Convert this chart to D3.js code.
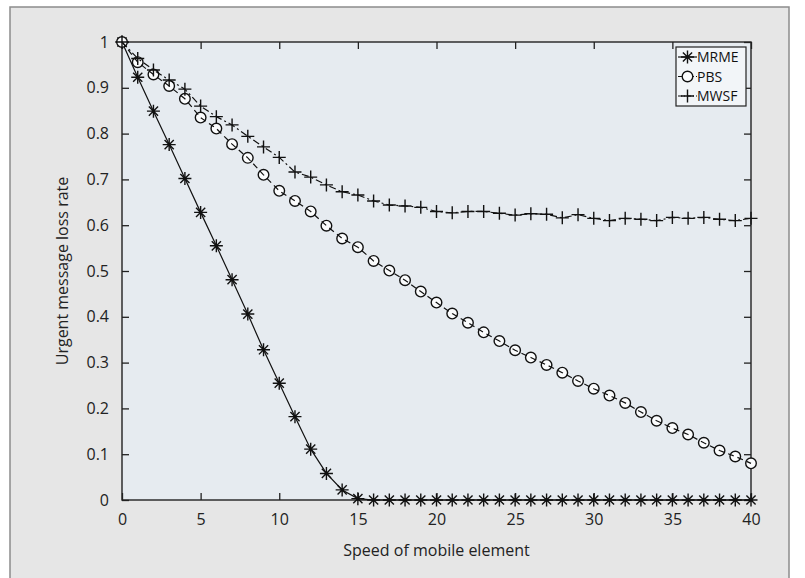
<!DOCTYPE html>
<html>
<head>
<meta charset="utf-8">
<script src="https://cdn.jsdelivr.net/npm/d3@7"></script>
<style>
  body { margin: 0; background: #fff; }
  svg { display: block; font-family: "Open Sans", sans-serif; }
</style>
</head>
<body>
<div id="chart"></div>
<script>
// speed of mobile element, 0..40
var speeds = d3.range(0, 41);

var mrme = [1, 0.923, 0.849, 0.776, 0.702, 0.628, 0.555, 0.481, 0.406, 0.328, 0.255,
            0.182, 0.111, 0.058, 0.022, 0.003, 0, 0, 0, 0, 0,
            0, 0, 0, 0, 0, 0, 0, 0, 0, 0,
            0, 0, 0, 0, 0, 0, 0, 0, 0, 0];

var pbs = [1, 0.956, 0.929, 0.904, 0.876, 0.835, 0.811, 0.777, 0.747, 0.71, 0.675,
           0.653, 0.63, 0.599, 0.571, 0.552, 0.522, 0.501, 0.48, 0.455, 0.431,
           0.407, 0.387, 0.366, 0.347, 0.327, 0.311, 0.295, 0.278, 0.26, 0.243,
           0.228, 0.212, 0.192, 0.173, 0.157, 0.143, 0.125, 0.108, 0.095, 0.08];

var mwsf = [1, 0.964, 0.939, 0.917, 0.897, 0.86, 0.837, 0.819, 0.794, 0.771, 0.748,
            0.716, 0.705, 0.688, 0.673, 0.666, 0.653, 0.644, 0.642, 0.639, 0.63,
            0.627, 0.63, 0.63, 0.626, 0.622, 0.625, 0.624, 0.616, 0.623, 0.615,
            0.61, 0.615, 0.613, 0.61, 0.617, 0.615, 0.617, 0.613, 0.61, 0.615];

var seriesNames = ["MRME", "PBS", "MWSF"];
var xTicks = [0, 5, 10, 15, 20, 25, 30, 35, 40];
var yTicks = [0, 0.1, 0.2, 0.3, 0.4, 0.5, 0.6, 0.7, 0.8, 0.9, 1];

var W = 805, H = 578;
var plot = { left: 122, right: 751, top: 42, bottom: 500 };
var fontSize = 16;

var svg = d3.select("#chart").append("svg")
    .attr("width", W).attr("height", H);

// outer panel
svg.append("rect")
    .attr("x", 10).attr("y", 7)
    .attr("width", 779).attr("height", 600)
    .attr("fill", "#e6e6e6")
    .attr("stroke", "#8c8c8c").attr("stroke-width", 1.5);

var x = d3.scaleLinear().domain([0, 40]).range([plot.left, plot.right]);
var y = d3.scaleLinear().domain([0, 1]).range([plot.bottom, plot.top]);

svg.append("rect")
    .attr("x", plot.left).attr("y", plot.top)
    .attr("width", plot.right - plot.left)
    .attr("height", plot.bottom - plot.top)
    .attr("fill", "#e6ebf0");

// axes, ticks pointing inward, mirrored on top / right
function styleAxis(g) {
  g.selectAll(".domain").remove();
  g.selectAll(".tick line").attr("stroke", "#222").attr("stroke-width", 1.3);
  g.selectAll("text").attr("font-size", fontSize).attr("fill", "#222")
    .attr("font-family", "'Open Sans', sans-serif");
}

svg.append("g")
    .attr("transform", "translate(0," + plot.bottom + ")")
    .call(d3.axisBottom(x).tickValues(xTicks).tickSizeInner(-7).tickSizeOuter(0).tickPadding(14))
    .call(styleAxis);

svg.append("g")
    .attr("transform", "translate(0," + plot.top + ")")
    .call(d3.axisTop(x).tickValues(xTicks).tickSizeInner(-7).tickSizeOuter(0).tickFormat(""))
    .call(styleAxis);

svg.append("g")
    .attr("transform", "translate(" + plot.left + ",0)")
    .call(d3.axisLeft(y).tickValues(yTicks).tickSizeInner(-7).tickSizeOuter(0).tickPadding(13)
      .tickFormat(function(d) { return d === 0 || d === 1 ? d : d3.format(".1f")(d); }))
    .call(styleAxis);

svg.append("g")
    .attr("transform", "translate(" + plot.right + ",0)")
    .call(d3.axisRight(y).tickValues(yTicks).tickSizeInner(-7).tickSizeOuter(0).tickFormat(""))
    .call(styleAxis);

// plot frame
svg.append("rect")
    .attr("x", plot.left).attr("y", plot.top)
    .attr("width", plot.right - plot.left)
    .attr("height", plot.bottom - plot.top)
    .attr("fill", "none")
    .attr("stroke", "#222").attr("stroke-width", 1.4);

// axis titles
svg.append("text")
    .attr("x", (plot.left + plot.right) / 2).attr("y", 556)
    .attr("text-anchor", "middle")
    .attr("font-size", fontSize).attr("fill", "#222")
    .text("Speed of mobile element");

svg.append("text")
    .attr("transform", "translate(68," + (plot.top + plot.bottom) / 2 + ") rotate(-90)")
    .attr("text-anchor", "middle")
    .attr("font-size", fontSize).attr("fill", "#222")
    .text("Urgent message loss rate");

// markers
var markerPath = {
  MRME: "M-6.5,0H6.5M0,-6.5V6.5M-4.6,-4.6L4.6,4.6M-4.6,4.6L4.6,-4.6",
  PBS: null,
  MWSF: "M-6.5,0H6.5M0,-6.5V6.5"
};
var dashes = { MRME: null, PBS: "6,4", MWSF: "7,3,2,3" };
var values = { MRME: mrme, PBS: pbs, MWSF: mwsf };

var line = d3.line()
    .x(function(d) { return x(d[0]); })
    .y(function(d) { return y(d[1]); });

function drawMarker(g, name) {
  if (name === "PBS") {
    g.append("circle").attr("r", 5.3)
      .attr("fill", "#fbfcfd").attr("stroke", "#111").attr("stroke-width", 1.4);
  } else {
    g.append("path").attr("d", markerPath[name])
      .attr("fill", "none").attr("stroke", "#111").attr("stroke-width", 1.4);
  }
}

var marks = svg.append("g");

seriesNames.forEach(function(name) {
  var pts = speeds.map(function(s, i) { return [s, values[name][i]]; });
  var grp = marks.append("g");
  pts.forEach(function(p) {
    var m = grp.append("g").attr("transform", "translate(" + x(p[0]) + "," + y(p[1]) + ")");
    drawMarker(m, name);
  });
  grp.append("path")
      .datum(pts)
      .attr("d", line)
      .attr("fill", "none")
      .attr("stroke", "#111")
      .attr("stroke-width", 1.2)
      .attr("stroke-dasharray", dashes[name]);
});

// legend
var lg = svg.append("g").attr("transform", "translate(676,47)");
lg.append("rect")
    .attr("width", 70).attr("height", 59)
    .attr("fill", "#f2f5f8")
    .attr("stroke", "#222").attr("stroke-width", 1.2);

seriesNames.forEach(function(name, i) {
  var row = lg.append("g").attr("transform", "translate(0," + (10 + i * 19.5) + ")");
  row.append("line")
      .attr("x1", 2).attr("x2", 21)
      .attr("stroke", "#111").attr("stroke-width", 1.2)
      .attr("stroke-dasharray", name === "PBS" ? "4,2" : name === "MWSF" ? "4,2,1,2" : null);
  var m = row.append("g").attr("transform", "translate(11.5,0)");
  drawMarker(m, name);
  row.append("text")
      .attr("x", 21).attr("y", 0).attr("dy", "0.36em")
      .attr("font-size", 14).attr("fill", "#111")
      .text(name);
});
</script>
</body>
</html>
